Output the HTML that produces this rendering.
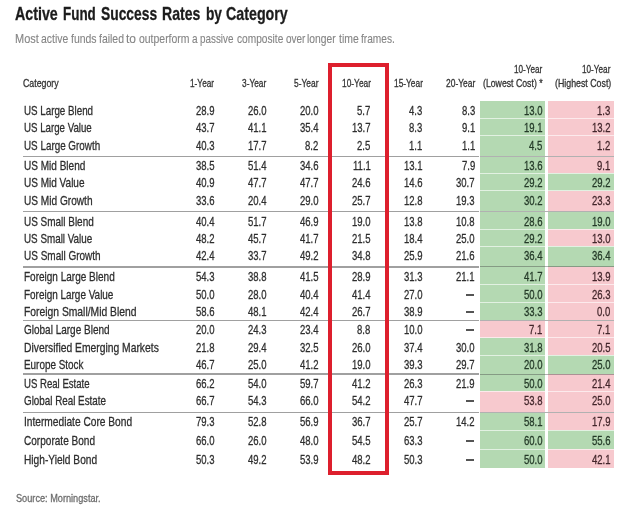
<!DOCTYPE html>
<html><head><meta charset="utf-8"><title>Active Fund Success Rates by Category</title>
<style>
html,body{margin:0;padding:0;background:#fff;}
body{width:625px;height:516px;position:relative;overflow:hidden;font-family:"Liberation Sans",sans-serif;}
#w{position:absolute;left:0;top:0;width:625px;height:516px;filter:blur(0.35px);}
.t{position:absolute;white-space:nowrap;line-height:1;transform-origin:0 0;-webkit-text-stroke:0.3px;}
.c{position:absolute;}
</style></head><body><div id="w">
<div class="c" style="left:479.8px;top:101.30px;width:65.20px;height:17.00px;background:#b4d9b2"></div>
<div class="c" style="left:547.6px;top:101.30px;width:66.40px;height:17.00px;background:#f7c9ce"></div>
<div class="c" style="left:479.8px;top:118.30px;width:65.20px;height:17.50px;background:#b4d9b2"></div>
<div class="c" style="left:547.6px;top:118.30px;width:66.40px;height:17.50px;background:#f7c9ce"></div>
<div class="c" style="left:479.8px;top:135.80px;width:65.20px;height:20.70px;background:#b4d9b2"></div>
<div class="c" style="left:547.6px;top:135.80px;width:66.40px;height:20.70px;background:#f7c9ce"></div>
<div class="c" style="left:479.8px;top:157.10px;width:65.20px;height:16.20px;background:#b4d9b2"></div>
<div class="c" style="left:547.6px;top:157.10px;width:66.40px;height:16.20px;background:#f7c9ce"></div>
<div class="c" style="left:479.8px;top:173.30px;width:65.20px;height:17.50px;background:#b4d9b2"></div>
<div class="c" style="left:547.6px;top:173.30px;width:66.40px;height:17.50px;background:#b4d9b2"></div>
<div class="c" style="left:479.8px;top:190.80px;width:65.20px;height:20.60px;background:#b4d9b2"></div>
<div class="c" style="left:547.6px;top:190.80px;width:66.40px;height:20.60px;background:#f7c9ce"></div>
<div class="c" style="left:479.8px;top:212.00px;width:65.20px;height:17.30px;background:#b4d9b2"></div>
<div class="c" style="left:547.6px;top:212.00px;width:66.40px;height:17.30px;background:#b4d9b2"></div>
<div class="c" style="left:479.8px;top:229.30px;width:65.20px;height:17.00px;background:#b4d9b2"></div>
<div class="c" style="left:547.6px;top:229.30px;width:66.40px;height:17.00px;background:#f7c9ce"></div>
<div class="c" style="left:479.8px;top:246.30px;width:65.20px;height:20.40px;background:#b4d9b2"></div>
<div class="c" style="left:547.6px;top:246.30px;width:66.40px;height:20.40px;background:#b4d9b2"></div>
<div class="c" style="left:479.8px;top:267.30px;width:65.20px;height:17.50px;background:#b4d9b2"></div>
<div class="c" style="left:547.6px;top:267.30px;width:66.40px;height:17.50px;background:#f7c9ce"></div>
<div class="c" style="left:479.8px;top:284.80px;width:65.20px;height:17.50px;background:#b4d9b2"></div>
<div class="c" style="left:547.6px;top:284.80px;width:66.40px;height:17.50px;background:#f7c9ce"></div>
<div class="c" style="left:479.8px;top:302.30px;width:65.20px;height:17.80px;background:#b4d9b2"></div>
<div class="c" style="left:547.6px;top:302.30px;width:66.40px;height:17.80px;background:#f7c9ce"></div>
<div class="c" style="left:479.8px;top:320.70px;width:65.20px;height:17.10px;background:#f7c9ce"></div>
<div class="c" style="left:547.6px;top:320.70px;width:66.40px;height:17.10px;background:#f7c9ce"></div>
<div class="c" style="left:479.8px;top:337.80px;width:65.20px;height:17.50px;background:#b4d9b2"></div>
<div class="c" style="left:547.6px;top:337.80px;width:66.40px;height:17.50px;background:#f7c9ce"></div>
<div class="c" style="left:479.8px;top:355.30px;width:65.20px;height:18.50px;background:#b4d9b2"></div>
<div class="c" style="left:547.6px;top:355.30px;width:66.40px;height:18.50px;background:#b4d9b2"></div>
<div class="c" style="left:479.8px;top:374.40px;width:65.20px;height:16.90px;background:#b4d9b2"></div>
<div class="c" style="left:547.6px;top:374.40px;width:66.40px;height:16.90px;background:#f7c9ce"></div>
<div class="c" style="left:479.8px;top:391.30px;width:65.20px;height:20.80px;background:#f7c9ce"></div>
<div class="c" style="left:547.6px;top:391.30px;width:66.40px;height:20.80px;background:#f7c9ce"></div>
<div class="c" style="left:479.8px;top:412.70px;width:65.20px;height:17.60px;background:#b4d9b2"></div>
<div class="c" style="left:547.6px;top:412.70px;width:66.40px;height:17.60px;background:#f7c9ce"></div>
<div class="c" style="left:479.8px;top:430.30px;width:65.20px;height:19.00px;background:#b4d9b2"></div>
<div class="c" style="left:547.6px;top:430.30px;width:66.40px;height:19.00px;background:#b4d9b2"></div>
<div class="c" style="left:479.8px;top:449.30px;width:65.20px;height:18.80px;background:#b4d9b2"></div>
<div class="c" style="left:547.6px;top:449.30px;width:66.40px;height:18.80px;background:#f7c9ce"></div>
<div class="c" style="left:479px;top:118px;width:136px;height:1px;background:rgba(255,255,255,0.62)"></div>
<div class="c" style="left:479px;top:135px;width:136px;height:1px;background:rgba(255,255,255,0.62)"></div>
<div class="c" style="left:479px;top:173px;width:136px;height:1px;background:rgba(255,255,255,0.62)"></div>
<div class="c" style="left:479px;top:190px;width:136px;height:1px;background:rgba(255,255,255,0.62)"></div>
<div class="c" style="left:479px;top:229px;width:136px;height:1px;background:rgba(255,255,255,0.62)"></div>
<div class="c" style="left:479px;top:246px;width:136px;height:1px;background:rgba(255,255,255,0.62)"></div>
<div class="c" style="left:479px;top:284px;width:136px;height:1px;background:rgba(255,255,255,0.62)"></div>
<div class="c" style="left:479px;top:302px;width:136px;height:1px;background:rgba(255,255,255,0.62)"></div>
<div class="c" style="left:479px;top:337px;width:136px;height:1px;background:rgba(255,255,255,0.62)"></div>
<div class="c" style="left:479px;top:355px;width:136px;height:1px;background:rgba(255,255,255,0.62)"></div>
<div class="c" style="left:479px;top:391px;width:136px;height:1px;background:rgba(255,255,255,0.62)"></div>
<div class="c" style="left:479px;top:430px;width:136px;height:1px;background:rgba(255,255,255,0.62)"></div>
<div class="c" style="left:479px;top:449px;width:136px;height:1px;background:rgba(255,255,255,0.62)"></div>
<div class="c" style="left:23.4px;top:156.10px;width:456.1px;height:1.3px;background:#a0a0a0"></div>
<div class="c" style="left:479.5px;top:156.25px;width:134.70000000000005px;height:1.0px;background:rgba(70,70,70,0.42)"></div>
<div class="c" style="left:23.4px;top:211.00px;width:456.1px;height:1.3px;background:#a0a0a0"></div>
<div class="c" style="left:479.5px;top:211.15px;width:134.70000000000005px;height:1.0px;background:rgba(70,70,70,0.42)"></div>
<div class="c" style="left:23.4px;top:266.30px;width:456.1px;height:1.3px;background:#a0a0a0"></div>
<div class="c" style="left:479.5px;top:266.45px;width:134.70000000000005px;height:1.0px;background:rgba(70,70,70,0.42)"></div>
<div class="c" style="left:23.4px;top:319.70px;width:456.1px;height:1.3px;background:#a0a0a0"></div>
<div class="c" style="left:479.5px;top:319.85px;width:134.70000000000005px;height:1.0px;background:rgba(70,70,70,0.42)"></div>
<div class="c" style="left:23.4px;top:373.40px;width:456.1px;height:1.3px;background:#a0a0a0"></div>
<div class="c" style="left:479.5px;top:373.55px;width:134.70000000000005px;height:1.0px;background:rgba(70,70,70,0.42)"></div>
<div class="c" style="left:23.4px;top:411.70px;width:456.1px;height:1.3px;background:#a0a0a0"></div>
<div class="c" style="left:479.5px;top:411.85px;width:134.70000000000005px;height:1.0px;background:rgba(70,70,70,0.42)"></div>
<div class="c" style="left:327.8px;top:62.6px;width:60.8px;height:412.1px;border:solid #dd1f2d;border-width:4.3px 4.3px 4.5px 4.1px;box-sizing:border-box"></div>
<div class="t" style="left:15.00px;top:3px;font-size:18.4px;line-height:21px;font-weight:bold;color:#1c1c1c;transform:scaleX(0.7747)">Active</div>
<div class="t" style="left:63.30px;top:3px;font-size:18.4px;line-height:21px;font-weight:bold;color:#1c1c1c;transform:scaleX(0.7298)">Fund</div>
<div class="t" style="left:101.20px;top:3px;font-size:18.4px;line-height:21px;font-weight:bold;color:#1c1c1c;transform:scaleX(0.7514)">Success</div>
<div class="t" style="left:162.40px;top:3px;font-size:18.4px;line-height:21px;font-weight:bold;color:#1c1c1c;transform:scaleX(0.7646)">Rates</div>
<div class="t" style="left:205.60px;top:3px;font-size:18.4px;line-height:21px;font-weight:bold;color:#1c1c1c;transform:scaleX(0.7448)">by</div>
<div class="t" style="left:225.60px;top:3px;font-size:18.4px;line-height:21px;font-weight:bold;color:#1c1c1c;transform:scaleX(0.7748)">Category</div>
<div class="t" style="left:15.20px;top:31px;font-size:12.8px;line-height:15px;-webkit-text-stroke:0.12px;color:#858585;transform:scaleX(0.8578)">Most</div>
<div class="t" style="left:41.10px;top:31px;font-size:12.8px;line-height:15px;-webkit-text-stroke:0.12px;color:#858585;transform:scaleX(0.8134)">active</div>
<div class="t" style="left:70.80px;top:31px;font-size:12.8px;line-height:15px;-webkit-text-stroke:0.12px;color:#858585;transform:scaleX(0.8172)">funds</div>
<div class="t" style="left:98.90px;top:31px;font-size:12.8px;line-height:15px;-webkit-text-stroke:0.12px;color:#858585;transform:scaleX(0.8172)">failed</div>
<div class="t" style="left:126.00px;top:31px;font-size:12.8px;line-height:15px;-webkit-text-stroke:0.12px;color:#858585;transform:scaleX(0.9356)">to</div>
<div class="t" style="left:138.80px;top:31px;font-size:12.8px;line-height:15px;-webkit-text-stroke:0.12px;color:#858585;transform:scaleX(0.8160)">outperform</div>
<div class="t" style="left:191.80px;top:31px;font-size:12.8px;line-height:15px;-webkit-text-stroke:0.12px;color:#858585;transform:scaleX(0.7848)">a</div>
<div class="t" style="left:200.10px;top:31px;font-size:12.8px;line-height:15px;-webkit-text-stroke:0.12px;color:#858585;transform:scaleX(0.7697)">passive</div>
<div class="t" style="left:236.60px;top:31px;font-size:12.8px;line-height:15px;-webkit-text-stroke:0.12px;color:#858585;transform:scaleX(0.7937)">composite</div>
<div class="t" style="left:285.60px;top:31px;font-size:12.8px;line-height:15px;-webkit-text-stroke:0.12px;color:#858585;transform:scaleX(0.7792)">over</div>
<div class="t" style="left:307.40px;top:31px;font-size:12.8px;line-height:15px;-webkit-text-stroke:0.12px;color:#858585;transform:scaleX(0.8037)">longer</div>
<div class="t" style="left:338.70px;top:31px;font-size:12.8px;line-height:15px;-webkit-text-stroke:0.12px;color:#858585;transform:scaleX(0.8143)">time</div>
<div class="t" style="left:361.20px;top:31px;font-size:12.8px;line-height:15px;-webkit-text-stroke:0.12px;color:#858585;transform:scaleX(0.7941)">frames.</div>
<div class="t" style="left:23.40px;top:77px;font-size:11px;line-height:12px;color:#333;transform:scaleX(0.7999)">Category</div>
<div class="t" style="left:190.40px;top:77px;font-size:11px;line-height:12px;color:#333;transform:scaleX(0.7529)">1-Year</div>
<div class="t" style="left:242.20px;top:77px;font-size:11px;line-height:12px;color:#333;transform:scaleX(0.7591)">3-Year</div>
<div class="t" style="left:293.90px;top:77px;font-size:11px;line-height:12px;color:#333;transform:scaleX(0.7654)">5-Year</div>
<div class="t" style="left:341.60px;top:77px;font-size:11px;line-height:12px;color:#333;transform:scaleX(0.7609)">10-Year</div>
<div class="t" style="left:393.60px;top:77px;font-size:11px;line-height:12px;color:#333;transform:scaleX(0.7582)">15-Year</div>
<div class="t" style="left:445.50px;top:77px;font-size:11px;line-height:12px;color:#333;transform:scaleX(0.7687)">20-Year</div>
<div class="t" style="left:514.00px;top:63px;font-size:11px;line-height:12px;color:#333;transform:scaleX(0.7425)">10-Year</div>
<div class="t" style="left:483.40px;top:77px;font-size:11px;line-height:12px;color:#333;transform:scaleX(0.7927)">(Lowest Cost) *</div>
<div class="t" style="left:581.90px;top:63px;font-size:11px;line-height:12px;color:#333;transform:scaleX(0.7451)">10-Year</div>
<div class="t" style="left:554.50px;top:77px;font-size:11px;line-height:12px;color:#333;transform:scaleX(0.8010)">(Highest Cost)</div>
<div class="t" style="left:23.60px;top:103px;font-size:13px;line-height:15px;color:#2e2e2e;transform:scaleX(0.7518)">US Large Blend</div>
<div class="t" style="left:195.92px;top:103px;font-size:13.4px;line-height:15px;color:#2e2e2e;transform:scaleX(0.7120)">28.9</div>
<div class="t" style="left:247.92px;top:103px;font-size:13.4px;line-height:15px;color:#2e2e2e;transform:scaleX(0.7120)">26.0</div>
<div class="t" style="left:299.82px;top:103px;font-size:13.4px;line-height:15px;color:#2e2e2e;transform:scaleX(0.7120)">20.0</div>
<div class="t" style="left:357.34px;top:103px;font-size:13.4px;line-height:15px;color:#2e2e2e;transform:scaleX(0.7120)">5.7</div>
<div class="t" style="left:409.24px;top:103px;font-size:13.4px;line-height:15px;color:#2e2e2e;transform:scaleX(0.7120)">4.3</div>
<div class="t" style="left:461.54px;top:103px;font-size:13.4px;line-height:15px;color:#2e2e2e;transform:scaleX(0.7120)">8.3</div>
<div class="t" style="left:523.92px;top:103px;font-size:13.4px;line-height:15px;color:#243a28;transform:scaleX(0.7120)">13.0</div>
<div class="t" style="left:597.14px;top:103px;font-size:13.4px;line-height:15px;color:#43262b;transform:scaleX(0.7120)">1.3</div>
<div class="t" style="left:23.60px;top:120px;font-size:13px;line-height:15px;color:#2e2e2e;transform:scaleX(0.7456)">US Large Value</div>
<div class="t" style="left:195.92px;top:120px;font-size:13.4px;line-height:15px;color:#2e2e2e;transform:scaleX(0.7120)">43.7</div>
<div class="t" style="left:247.92px;top:120px;font-size:13.4px;line-height:15px;color:#2e2e2e;transform:scaleX(0.7120)">41.1</div>
<div class="t" style="left:299.82px;top:120px;font-size:13.4px;line-height:15px;color:#2e2e2e;transform:scaleX(0.7120)">35.4</div>
<div class="t" style="left:352.02px;top:120px;font-size:13.4px;line-height:15px;color:#2e2e2e;transform:scaleX(0.7120)">13.7</div>
<div class="t" style="left:409.24px;top:120px;font-size:13.4px;line-height:15px;color:#2e2e2e;transform:scaleX(0.7120)">8.3</div>
<div class="t" style="left:461.54px;top:120px;font-size:13.4px;line-height:15px;color:#2e2e2e;transform:scaleX(0.7120)">9.1</div>
<div class="t" style="left:523.92px;top:120px;font-size:13.4px;line-height:15px;color:#243a28;transform:scaleX(0.7120)">19.1</div>
<div class="t" style="left:591.82px;top:120px;font-size:13.4px;line-height:15px;color:#43262b;transform:scaleX(0.7120)">13.2</div>
<div class="t" style="left:23.60px;top:138px;font-size:13px;line-height:15px;color:#2e2e2e;transform:scaleX(0.7578)">US Large Growth</div>
<div class="t" style="left:195.92px;top:138px;font-size:13.4px;line-height:15px;color:#2e2e2e;transform:scaleX(0.7120)">40.3</div>
<div class="t" style="left:247.92px;top:138px;font-size:13.4px;line-height:15px;color:#2e2e2e;transform:scaleX(0.7120)">17.7</div>
<div class="t" style="left:305.14px;top:138px;font-size:13.4px;line-height:15px;color:#2e2e2e;transform:scaleX(0.7120)">8.2</div>
<div class="t" style="left:357.34px;top:138px;font-size:13.4px;line-height:15px;color:#2e2e2e;transform:scaleX(0.7120)">2.5</div>
<div class="t" style="left:409.24px;top:138px;font-size:13.4px;line-height:15px;color:#2e2e2e;transform:scaleX(0.7120)">1.1</div>
<div class="t" style="left:461.54px;top:138px;font-size:13.4px;line-height:15px;color:#2e2e2e;transform:scaleX(0.7120)">1.1</div>
<div class="t" style="left:529.24px;top:138px;font-size:13.4px;line-height:15px;color:#243a28;transform:scaleX(0.7120)">4.5</div>
<div class="t" style="left:597.14px;top:138px;font-size:13.4px;line-height:15px;color:#43262b;transform:scaleX(0.7120)">1.2</div>
<div class="t" style="left:23.60px;top:158px;font-size:13px;line-height:15px;color:#2e2e2e;transform:scaleX(0.7711)">US Mid Blend</div>
<div class="t" style="left:195.92px;top:158px;font-size:13.4px;line-height:15px;color:#2e2e2e;transform:scaleX(0.7120)">38.5</div>
<div class="t" style="left:247.92px;top:158px;font-size:13.4px;line-height:15px;color:#2e2e2e;transform:scaleX(0.7120)">51.4</div>
<div class="t" style="left:299.82px;top:158px;font-size:13.4px;line-height:15px;color:#2e2e2e;transform:scaleX(0.7120)">34.6</div>
<div class="t" style="left:352.73px;top:158px;font-size:13.4px;line-height:15px;color:#2e2e2e;transform:scaleX(0.7120)">11.1</div>
<div class="t" style="left:403.92px;top:158px;font-size:13.4px;line-height:15px;color:#2e2e2e;transform:scaleX(0.7120)">13.1</div>
<div class="t" style="left:461.54px;top:158px;font-size:13.4px;line-height:15px;color:#2e2e2e;transform:scaleX(0.7120)">7.9</div>
<div class="t" style="left:523.92px;top:158px;font-size:13.4px;line-height:15px;color:#243a28;transform:scaleX(0.7120)">13.6</div>
<div class="t" style="left:597.14px;top:158px;font-size:13.4px;line-height:15px;color:#43262b;transform:scaleX(0.7120)">9.1</div>
<div class="t" style="left:23.60px;top:175px;font-size:13px;line-height:15px;color:#2e2e2e;transform:scaleX(0.7705)">US Mid Value</div>
<div class="t" style="left:195.92px;top:175px;font-size:13.4px;line-height:15px;color:#2e2e2e;transform:scaleX(0.7120)">40.9</div>
<div class="t" style="left:247.92px;top:175px;font-size:13.4px;line-height:15px;color:#2e2e2e;transform:scaleX(0.7120)">47.7</div>
<div class="t" style="left:299.82px;top:175px;font-size:13.4px;line-height:15px;color:#2e2e2e;transform:scaleX(0.7120)">47.7</div>
<div class="t" style="left:352.02px;top:175px;font-size:13.4px;line-height:15px;color:#2e2e2e;transform:scaleX(0.7120)">24.6</div>
<div class="t" style="left:403.92px;top:175px;font-size:13.4px;line-height:15px;color:#2e2e2e;transform:scaleX(0.7120)">14.6</div>
<div class="t" style="left:456.22px;top:175px;font-size:13.4px;line-height:15px;color:#2e2e2e;transform:scaleX(0.7120)">30.7</div>
<div class="t" style="left:523.92px;top:175px;font-size:13.4px;line-height:15px;color:#243a28;transform:scaleX(0.7120)">29.2</div>
<div class="t" style="left:591.82px;top:175px;font-size:13.4px;line-height:15px;color:#243a28;transform:scaleX(0.7120)">29.2</div>
<div class="t" style="left:23.60px;top:193px;font-size:13px;line-height:15px;color:#2e2e2e;transform:scaleX(0.7772)">US Mid Growth</div>
<div class="t" style="left:195.92px;top:193px;font-size:13.4px;line-height:15px;color:#2e2e2e;transform:scaleX(0.7120)">33.6</div>
<div class="t" style="left:247.92px;top:193px;font-size:13.4px;line-height:15px;color:#2e2e2e;transform:scaleX(0.7120)">20.4</div>
<div class="t" style="left:299.82px;top:193px;font-size:13.4px;line-height:15px;color:#2e2e2e;transform:scaleX(0.7120)">29.0</div>
<div class="t" style="left:352.02px;top:193px;font-size:13.4px;line-height:15px;color:#2e2e2e;transform:scaleX(0.7120)">25.7</div>
<div class="t" style="left:403.92px;top:193px;font-size:13.4px;line-height:15px;color:#2e2e2e;transform:scaleX(0.7120)">12.8</div>
<div class="t" style="left:456.22px;top:193px;font-size:13.4px;line-height:15px;color:#2e2e2e;transform:scaleX(0.7120)">19.3</div>
<div class="t" style="left:523.92px;top:193px;font-size:13.4px;line-height:15px;color:#243a28;transform:scaleX(0.7120)">30.2</div>
<div class="t" style="left:591.82px;top:193px;font-size:13.4px;line-height:15px;color:#43262b;transform:scaleX(0.7120)">23.3</div>
<div class="t" style="left:23.60px;top:214px;font-size:13px;line-height:15px;color:#2e2e2e;transform:scaleX(0.7657)">US Small Blend</div>
<div class="t" style="left:195.92px;top:214px;font-size:13.4px;line-height:15px;color:#2e2e2e;transform:scaleX(0.7120)">40.4</div>
<div class="t" style="left:247.92px;top:214px;font-size:13.4px;line-height:15px;color:#2e2e2e;transform:scaleX(0.7120)">51.7</div>
<div class="t" style="left:299.82px;top:214px;font-size:13.4px;line-height:15px;color:#2e2e2e;transform:scaleX(0.7120)">46.9</div>
<div class="t" style="left:352.02px;top:214px;font-size:13.4px;line-height:15px;color:#2e2e2e;transform:scaleX(0.7120)">19.0</div>
<div class="t" style="left:403.92px;top:214px;font-size:13.4px;line-height:15px;color:#2e2e2e;transform:scaleX(0.7120)">13.8</div>
<div class="t" style="left:456.22px;top:214px;font-size:13.4px;line-height:15px;color:#2e2e2e;transform:scaleX(0.7120)">10.8</div>
<div class="t" style="left:523.92px;top:214px;font-size:13.4px;line-height:15px;color:#243a28;transform:scaleX(0.7120)">28.6</div>
<div class="t" style="left:591.82px;top:214px;font-size:13.4px;line-height:15px;color:#243a28;transform:scaleX(0.7120)">19.0</div>
<div class="t" style="left:23.60px;top:231px;font-size:13px;line-height:15px;color:#2e2e2e;transform:scaleX(0.7570)">US Small Value</div>
<div class="t" style="left:195.92px;top:231px;font-size:13.4px;line-height:15px;color:#2e2e2e;transform:scaleX(0.7120)">48.2</div>
<div class="t" style="left:247.92px;top:231px;font-size:13.4px;line-height:15px;color:#2e2e2e;transform:scaleX(0.7120)">45.7</div>
<div class="t" style="left:299.82px;top:231px;font-size:13.4px;line-height:15px;color:#2e2e2e;transform:scaleX(0.7120)">41.7</div>
<div class="t" style="left:352.02px;top:231px;font-size:13.4px;line-height:15px;color:#2e2e2e;transform:scaleX(0.7120)">21.5</div>
<div class="t" style="left:403.92px;top:231px;font-size:13.4px;line-height:15px;color:#2e2e2e;transform:scaleX(0.7120)">18.4</div>
<div class="t" style="left:456.22px;top:231px;font-size:13.4px;line-height:15px;color:#2e2e2e;transform:scaleX(0.7120)">25.0</div>
<div class="t" style="left:523.92px;top:231px;font-size:13.4px;line-height:15px;color:#243a28;transform:scaleX(0.7120)">29.2</div>
<div class="t" style="left:591.82px;top:231px;font-size:13.4px;line-height:15px;color:#43262b;transform:scaleX(0.7120)">13.0</div>
<div class="t" style="left:23.60px;top:248px;font-size:13px;line-height:15px;color:#2e2e2e;transform:scaleX(0.7685)">US Small Growth</div>
<div class="t" style="left:195.92px;top:248px;font-size:13.4px;line-height:15px;color:#2e2e2e;transform:scaleX(0.7120)">42.4</div>
<div class="t" style="left:247.92px;top:248px;font-size:13.4px;line-height:15px;color:#2e2e2e;transform:scaleX(0.7120)">33.7</div>
<div class="t" style="left:299.82px;top:248px;font-size:13.4px;line-height:15px;color:#2e2e2e;transform:scaleX(0.7120)">49.2</div>
<div class="t" style="left:352.02px;top:248px;font-size:13.4px;line-height:15px;color:#2e2e2e;transform:scaleX(0.7120)">34.8</div>
<div class="t" style="left:403.92px;top:248px;font-size:13.4px;line-height:15px;color:#2e2e2e;transform:scaleX(0.7120)">25.9</div>
<div class="t" style="left:456.22px;top:248px;font-size:13.4px;line-height:15px;color:#2e2e2e;transform:scaleX(0.7120)">21.6</div>
<div class="t" style="left:523.92px;top:248px;font-size:13.4px;line-height:15px;color:#243a28;transform:scaleX(0.7120)">36.4</div>
<div class="t" style="left:591.82px;top:248px;font-size:13.4px;line-height:15px;color:#243a28;transform:scaleX(0.7120)">36.4</div>
<div class="t" style="left:23.60px;top:269px;font-size:13px;line-height:15px;color:#2e2e2e;transform:scaleX(0.7699)">Foreign Large Blend</div>
<div class="t" style="left:195.92px;top:269px;font-size:13.4px;line-height:15px;color:#2e2e2e;transform:scaleX(0.7120)">54.3</div>
<div class="t" style="left:247.92px;top:269px;font-size:13.4px;line-height:15px;color:#2e2e2e;transform:scaleX(0.7120)">38.8</div>
<div class="t" style="left:299.82px;top:269px;font-size:13.4px;line-height:15px;color:#2e2e2e;transform:scaleX(0.7120)">41.5</div>
<div class="t" style="left:352.02px;top:269px;font-size:13.4px;line-height:15px;color:#2e2e2e;transform:scaleX(0.7120)">28.9</div>
<div class="t" style="left:403.92px;top:269px;font-size:13.4px;line-height:15px;color:#2e2e2e;transform:scaleX(0.7120)">31.3</div>
<div class="t" style="left:456.22px;top:269px;font-size:13.4px;line-height:15px;color:#2e2e2e;transform:scaleX(0.7120)">21.1</div>
<div class="t" style="left:523.92px;top:269px;font-size:13.4px;line-height:15px;color:#243a28;transform:scaleX(0.7120)">41.7</div>
<div class="t" style="left:591.82px;top:269px;font-size:13.4px;line-height:15px;color:#43262b;transform:scaleX(0.7120)">13.9</div>
<div class="t" style="left:23.60px;top:287px;font-size:13px;line-height:15px;color:#2e2e2e;transform:scaleX(0.7652)">Foreign Large Value</div>
<div class="t" style="left:195.92px;top:287px;font-size:13.4px;line-height:15px;color:#2e2e2e;transform:scaleX(0.7120)">50.0</div>
<div class="t" style="left:247.92px;top:287px;font-size:13.4px;line-height:15px;color:#2e2e2e;transform:scaleX(0.7120)">28.0</div>
<div class="t" style="left:299.82px;top:287px;font-size:13.4px;line-height:15px;color:#2e2e2e;transform:scaleX(0.7120)">40.4</div>
<div class="t" style="left:352.02px;top:287px;font-size:13.4px;line-height:15px;color:#2e2e2e;transform:scaleX(0.7120)">41.4</div>
<div class="t" style="left:403.92px;top:287px;font-size:13.4px;line-height:15px;color:#2e2e2e;transform:scaleX(0.7120)">27.0</div>
<div class="c" style="left:465.6px;top:294.40px;width:8px;height:1.2px;background:#555"></div>
<div class="t" style="left:523.92px;top:287px;font-size:13.4px;line-height:15px;color:#243a28;transform:scaleX(0.7120)">50.0</div>
<div class="t" style="left:591.82px;top:287px;font-size:13.4px;line-height:15px;color:#43262b;transform:scaleX(0.7120)">26.3</div>
<div class="t" style="left:23.60px;top:304px;font-size:13px;line-height:15px;color:#2e2e2e;transform:scaleX(0.7943)">Foreign Small/Mid Blend</div>
<div class="t" style="left:195.92px;top:304px;font-size:13.4px;line-height:15px;color:#2e2e2e;transform:scaleX(0.7120)">58.6</div>
<div class="t" style="left:247.92px;top:304px;font-size:13.4px;line-height:15px;color:#2e2e2e;transform:scaleX(0.7120)">48.1</div>
<div class="t" style="left:299.82px;top:304px;font-size:13.4px;line-height:15px;color:#2e2e2e;transform:scaleX(0.7120)">42.4</div>
<div class="t" style="left:352.02px;top:304px;font-size:13.4px;line-height:15px;color:#2e2e2e;transform:scaleX(0.7120)">26.7</div>
<div class="t" style="left:403.92px;top:304px;font-size:13.4px;line-height:15px;color:#2e2e2e;transform:scaleX(0.7120)">38.9</div>
<div class="c" style="left:465.6px;top:311.40px;width:8px;height:1.2px;background:#555"></div>
<div class="t" style="left:523.92px;top:304px;font-size:13.4px;line-height:15px;color:#243a28;transform:scaleX(0.7120)">33.3</div>
<div class="t" style="left:597.14px;top:304px;font-size:13.4px;line-height:15px;color:#43262b;transform:scaleX(0.7120)">0.0</div>
<div class="t" style="left:23.60px;top:322px;font-size:13px;line-height:15px;color:#2e2e2e;transform:scaleX(0.7690)">Global Large Blend</div>
<div class="t" style="left:195.92px;top:322px;font-size:13.4px;line-height:15px;color:#2e2e2e;transform:scaleX(0.7120)">20.0</div>
<div class="t" style="left:247.92px;top:322px;font-size:13.4px;line-height:15px;color:#2e2e2e;transform:scaleX(0.7120)">24.3</div>
<div class="t" style="left:299.82px;top:322px;font-size:13.4px;line-height:15px;color:#2e2e2e;transform:scaleX(0.7120)">23.4</div>
<div class="t" style="left:357.34px;top:322px;font-size:13.4px;line-height:15px;color:#2e2e2e;transform:scaleX(0.7120)">8.8</div>
<div class="t" style="left:403.92px;top:322px;font-size:13.4px;line-height:15px;color:#2e2e2e;transform:scaleX(0.7120)">10.0</div>
<div class="c" style="left:465.6px;top:329.40px;width:8px;height:1.2px;background:#555"></div>
<div class="t" style="left:529.24px;top:322px;font-size:13.4px;line-height:15px;color:#43262b;transform:scaleX(0.7120)">7.1</div>
<div class="t" style="left:597.14px;top:322px;font-size:13.4px;line-height:15px;color:#43262b;transform:scaleX(0.7120)">7.1</div>
<div class="t" style="left:23.60px;top:340px;font-size:13px;line-height:15px;color:#2e2e2e;transform:scaleX(0.7940)">Diversified Emerging Markets</div>
<div class="t" style="left:195.92px;top:340px;font-size:13.4px;line-height:15px;color:#2e2e2e;transform:scaleX(0.7120)">21.8</div>
<div class="t" style="left:247.92px;top:340px;font-size:13.4px;line-height:15px;color:#2e2e2e;transform:scaleX(0.7120)">29.4</div>
<div class="t" style="left:299.82px;top:340px;font-size:13.4px;line-height:15px;color:#2e2e2e;transform:scaleX(0.7120)">32.5</div>
<div class="t" style="left:352.02px;top:340px;font-size:13.4px;line-height:15px;color:#2e2e2e;transform:scaleX(0.7120)">26.0</div>
<div class="t" style="left:403.92px;top:340px;font-size:13.4px;line-height:15px;color:#2e2e2e;transform:scaleX(0.7120)">37.4</div>
<div class="t" style="left:456.22px;top:340px;font-size:13.4px;line-height:15px;color:#2e2e2e;transform:scaleX(0.7120)">30.0</div>
<div class="t" style="left:523.92px;top:340px;font-size:13.4px;line-height:15px;color:#243a28;transform:scaleX(0.7120)">31.8</div>
<div class="t" style="left:591.82px;top:340px;font-size:13.4px;line-height:15px;color:#43262b;transform:scaleX(0.7120)">20.5</div>
<div class="t" style="left:23.60px;top:357px;font-size:13px;line-height:15px;color:#2e2e2e;transform:scaleX(0.7622)">Europe Stock</div>
<div class="t" style="left:195.92px;top:357px;font-size:13.4px;line-height:15px;color:#2e2e2e;transform:scaleX(0.7120)">46.7</div>
<div class="t" style="left:247.92px;top:357px;font-size:13.4px;line-height:15px;color:#2e2e2e;transform:scaleX(0.7120)">25.0</div>
<div class="t" style="left:299.82px;top:357px;font-size:13.4px;line-height:15px;color:#2e2e2e;transform:scaleX(0.7120)">41.2</div>
<div class="t" style="left:352.02px;top:357px;font-size:13.4px;line-height:15px;color:#2e2e2e;transform:scaleX(0.7120)">19.0</div>
<div class="t" style="left:403.92px;top:357px;font-size:13.4px;line-height:15px;color:#2e2e2e;transform:scaleX(0.7120)">39.3</div>
<div class="t" style="left:456.22px;top:357px;font-size:13.4px;line-height:15px;color:#2e2e2e;transform:scaleX(0.7120)">29.7</div>
<div class="t" style="left:523.92px;top:357px;font-size:13.4px;line-height:15px;color:#243a28;transform:scaleX(0.7120)">20.0</div>
<div class="t" style="left:591.82px;top:357px;font-size:13.4px;line-height:15px;color:#243a28;transform:scaleX(0.7120)">25.0</div>
<div class="t" style="left:23.60px;top:376px;font-size:13px;line-height:15px;color:#2e2e2e;transform:scaleX(0.7380)">US Real Estate</div>
<div class="t" style="left:195.92px;top:376px;font-size:13.4px;line-height:15px;color:#2e2e2e;transform:scaleX(0.7120)">66.2</div>
<div class="t" style="left:247.92px;top:376px;font-size:13.4px;line-height:15px;color:#2e2e2e;transform:scaleX(0.7120)">54.0</div>
<div class="t" style="left:299.82px;top:376px;font-size:13.4px;line-height:15px;color:#2e2e2e;transform:scaleX(0.7120)">59.7</div>
<div class="t" style="left:352.02px;top:376px;font-size:13.4px;line-height:15px;color:#2e2e2e;transform:scaleX(0.7120)">41.2</div>
<div class="t" style="left:403.92px;top:376px;font-size:13.4px;line-height:15px;color:#2e2e2e;transform:scaleX(0.7120)">26.3</div>
<div class="t" style="left:456.22px;top:376px;font-size:13.4px;line-height:15px;color:#2e2e2e;transform:scaleX(0.7120)">21.9</div>
<div class="t" style="left:523.92px;top:376px;font-size:13.4px;line-height:15px;color:#243a28;transform:scaleX(0.7120)">50.0</div>
<div class="t" style="left:591.82px;top:376px;font-size:13.4px;line-height:15px;color:#43262b;transform:scaleX(0.7120)">21.4</div>
<div class="t" style="left:23.60px;top:393px;font-size:13px;line-height:15px;color:#2e2e2e;transform:scaleX(0.7565)">Global Real Estate</div>
<div class="t" style="left:195.92px;top:393px;font-size:13.4px;line-height:15px;color:#2e2e2e;transform:scaleX(0.7120)">66.7</div>
<div class="t" style="left:247.92px;top:393px;font-size:13.4px;line-height:15px;color:#2e2e2e;transform:scaleX(0.7120)">54.3</div>
<div class="t" style="left:299.82px;top:393px;font-size:13.4px;line-height:15px;color:#2e2e2e;transform:scaleX(0.7120)">66.0</div>
<div class="t" style="left:352.02px;top:393px;font-size:13.4px;line-height:15px;color:#2e2e2e;transform:scaleX(0.7120)">54.2</div>
<div class="t" style="left:403.92px;top:393px;font-size:13.4px;line-height:15px;color:#2e2e2e;transform:scaleX(0.7120)">47.7</div>
<div class="c" style="left:465.6px;top:400.40px;width:8px;height:1.2px;background:#555"></div>
<div class="t" style="left:523.92px;top:393px;font-size:13.4px;line-height:15px;color:#43262b;transform:scaleX(0.7120)">53.8</div>
<div class="t" style="left:591.82px;top:393px;font-size:13.4px;line-height:15px;color:#43262b;transform:scaleX(0.7120)">25.0</div>
<div class="t" style="left:23.60px;top:414px;font-size:13px;line-height:15px;color:#2e2e2e;transform:scaleX(0.7832)">Intermediate Core Bond</div>
<div class="t" style="left:195.92px;top:414px;font-size:13.4px;line-height:15px;color:#2e2e2e;transform:scaleX(0.7120)">79.3</div>
<div class="t" style="left:247.92px;top:414px;font-size:13.4px;line-height:15px;color:#2e2e2e;transform:scaleX(0.7120)">52.8</div>
<div class="t" style="left:299.82px;top:414px;font-size:13.4px;line-height:15px;color:#2e2e2e;transform:scaleX(0.7120)">56.9</div>
<div class="t" style="left:352.02px;top:414px;font-size:13.4px;line-height:15px;color:#2e2e2e;transform:scaleX(0.7120)">36.7</div>
<div class="t" style="left:403.92px;top:414px;font-size:13.4px;line-height:15px;color:#2e2e2e;transform:scaleX(0.7120)">25.7</div>
<div class="t" style="left:456.22px;top:414px;font-size:13.4px;line-height:15px;color:#2e2e2e;transform:scaleX(0.7120)">14.2</div>
<div class="t" style="left:523.92px;top:414px;font-size:13.4px;line-height:15px;color:#243a28;transform:scaleX(0.7120)">58.1</div>
<div class="t" style="left:591.82px;top:414px;font-size:13.4px;line-height:15px;color:#43262b;transform:scaleX(0.7120)">17.9</div>
<div class="t" style="left:23.60px;top:433px;font-size:13px;line-height:15px;color:#2e2e2e;transform:scaleX(0.7736)">Corporate Bond</div>
<div class="t" style="left:195.92px;top:433px;font-size:13.4px;line-height:15px;color:#2e2e2e;transform:scaleX(0.7120)">66.0</div>
<div class="t" style="left:247.92px;top:433px;font-size:13.4px;line-height:15px;color:#2e2e2e;transform:scaleX(0.7120)">26.0</div>
<div class="t" style="left:299.82px;top:433px;font-size:13.4px;line-height:15px;color:#2e2e2e;transform:scaleX(0.7120)">48.0</div>
<div class="t" style="left:352.02px;top:433px;font-size:13.4px;line-height:15px;color:#2e2e2e;transform:scaleX(0.7120)">54.5</div>
<div class="t" style="left:403.92px;top:433px;font-size:13.4px;line-height:15px;color:#2e2e2e;transform:scaleX(0.7120)">63.3</div>
<div class="c" style="left:465.6px;top:440.40px;width:8px;height:1.2px;background:#555"></div>
<div class="t" style="left:523.92px;top:433px;font-size:13.4px;line-height:15px;color:#243a28;transform:scaleX(0.7120)">60.0</div>
<div class="t" style="left:591.82px;top:433px;font-size:13.4px;line-height:15px;color:#243a28;transform:scaleX(0.7120)">55.6</div>
<div class="t" style="left:23.60px;top:452px;font-size:13px;line-height:15px;color:#2e2e2e;transform:scaleX(0.7821)">High-Yield Bond</div>
<div class="t" style="left:195.92px;top:452px;font-size:13.4px;line-height:15px;color:#2e2e2e;transform:scaleX(0.7120)">50.3</div>
<div class="t" style="left:247.92px;top:452px;font-size:13.4px;line-height:15px;color:#2e2e2e;transform:scaleX(0.7120)">49.2</div>
<div class="t" style="left:299.82px;top:452px;font-size:13.4px;line-height:15px;color:#2e2e2e;transform:scaleX(0.7120)">53.9</div>
<div class="t" style="left:352.02px;top:452px;font-size:13.4px;line-height:15px;color:#2e2e2e;transform:scaleX(0.7120)">48.2</div>
<div class="t" style="left:403.92px;top:452px;font-size:13.4px;line-height:15px;color:#2e2e2e;transform:scaleX(0.7120)">50.3</div>
<div class="c" style="left:465.6px;top:459.40px;width:8px;height:1.2px;background:#555"></div>
<div class="t" style="left:523.92px;top:452px;font-size:13.4px;line-height:15px;color:#243a28;transform:scaleX(0.7120)">50.0</div>
<div class="t" style="left:591.82px;top:452px;font-size:13.4px;line-height:15px;color:#43262b;transform:scaleX(0.7120)">42.1</div>
<div class="t" style="left:15.70px;top:492px;font-size:11.3px;line-height:12px;color:#6c6c6c;transform:scaleX(0.8123)">Source: Morningstar.</div>
</div></body></html>
